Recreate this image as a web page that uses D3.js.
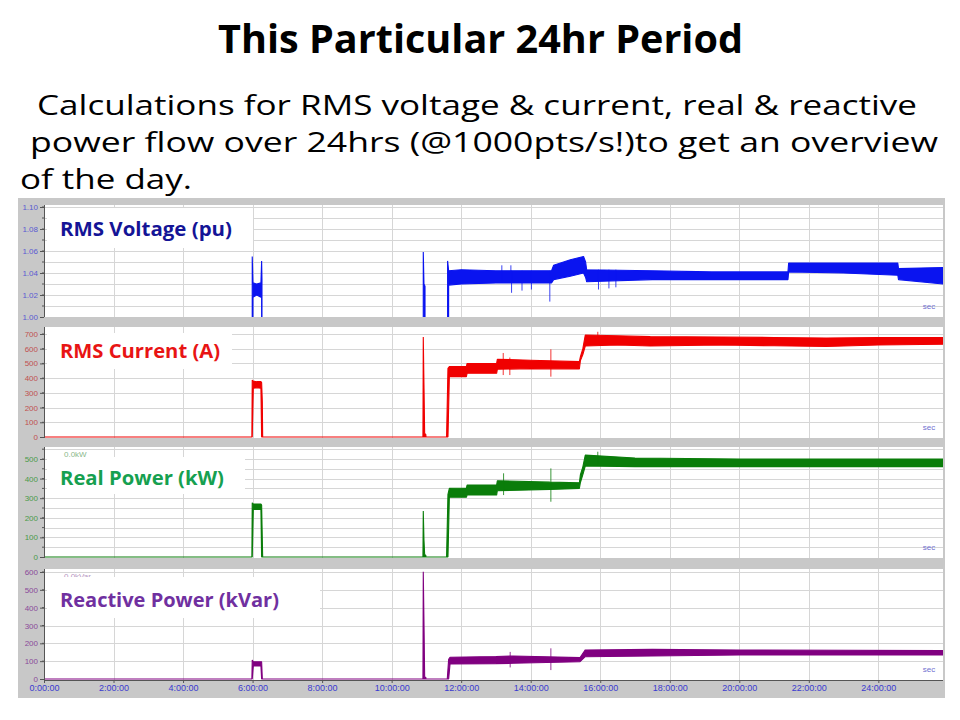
<!DOCTYPE html>
<html><head><meta charset="utf-8">
<script src="https://cdn.jsdelivr.net/npm/d3@7"></script>
<style>body{margin:0;background:#fff}</style>
</head><body>
<svg id="c" width="960" height="720"></svg>
<script>
// ---------- DATA ----------
const xTickHours  = [0,2,4,6,8,10,12,14,16,18,20,22,24];
const xTickLabels = ["0:00:00","2:00:00","4:00:00","6:00:00","8:00:00","10:00:00","12:00:00","14:00:00","16:00:00","18:00:00","20:00:00","22:00:00","24:00:00"];
const recordHours = [0, 25.86];

const voltageTicks = [1.00,1.02,1.04,1.06,1.08,1.10];
const currentTicks = [0,100,200,300,400,500,600,700];
const realTicks    = [0,100,200,300,400,500];
const reactTicks   = [0,100,200,300,400,500,600];

// envelope (min / max) of each 1000 pts/s trace
const voltageHours = [0,5.98,5.99,6.01,6.12,6.24,6.26,6.27,6.28,10.90,10.91,10.93,10.96,10.97,11.60,11.61,11.64,12.00,13.00,14.00,14.60,14.66,15.14,15.52,15.58,15.61,17.50,19.20,21.40,21.42,23.00,24.56,24.58,25.86];
const voltageLow   = [0,0,0,1.018,1.020,1.018,1.020,0,0,0,0,0,0,0,0,0,1.029,1.030,1.031,1.031,1.031,1.034,1.037,1.040,1.036,1.032,1.034,1.034,1.034,1.041,1.040,1.038,1.034,1.030];
const voltageHigh  = [0,0,1.055,1.031,1.030,1.031,1.051,1.034,0,0,1.059,1.030,1.028,0,0,1.051,1.042,1.043,1.042,1.042,1.042,1.047,1.052,1.055,1.050,1.043,1.042,1.041,1.041,1.049,1.049,1.049,1.044,1.045];
const voltageSpikeHours = [13.17,13.43,13.45,13.75,14.02,14.55,15.95,16.25,16.45];
const voltageSpikeLow   = [1.031,1.031,1.022,1.024,1.025,1.014,1.025,1.026,1.027];
const voltageSpikeHigh  = [1.047,1.047,1.042,1.042,1.042,1.042,1.043,1.043,1.043];

const currentHours = [0,5.98,5.99,6.02,6.12,6.24,6.26,6.28,6.29,10.90,10.91,10.93,10.95,10.98,10.99,11.58,11.62,11.66,12.15,12.17,13.02,13.04,14.00,15.40,15.43,15.50,15.57,16.50,17.44,19.50,21.00,22.50,24.00,25.86];
const currentLow   = [0,0,0,331,335,331,0,0,0,0,0,0,0,0,0,0,0,410,410,433,433,460,465,462,519,560,618,625,618,625,620,615,625,630];
const currentHigh  = [0,0,387,380,376,376,370,240,0,0,680,353,20,20,0,0,467,478,478,500,500,528,522,512,546,600,693,688,682,680,676,672,676,676];
const currentSpikeHours = [13.21,13.40,14.58,15.93];
const currentSpikeLow   = [421,421,410,640];
const currentSpikeHigh  = [571,540,596,715];

const realHours = [0,5.98,5.99,6.02,6.24,6.26,6.28,6.29,10.90,10.91,10.93,10.95,10.98,10.99,11.58,11.62,11.66,12.15,12.17,13.02,13.04,14.55,15.40,15.43,15.50,15.57,17.00,20.00,25.86];
const realLow   = [0,0,0,243,243,0,0,0,0,0,0,0,0,0,0,0,305,305,316,316,338,345,350,380,420,464,461,461,461];
const realHigh  = [0,0,277,270,270,265,87,0,0,235,87,10,10,0,0,320,350,352,367,367,389,382,379,420,460,520,505,500,500];
const realSpikeHours = [13.22,14.58,15.93];
const realSpikeLow   = [316,282,470];
const realSpikeHigh  = [427,452,537];

const reactHours = [0,5.98,5.99,6.02,6.24,6.26,6.28,10.90,10.91,10.93,10.95,10.98,10.99,11.60,11.64,11.68,13.00,13.50,15.42,15.57,17.50,20.00,25.86];
const reactLow   = [0,0,0,73,73,0,0,0,0,0,0,0,0,0,0,84,86,88,97,125,129,135,135];
const reactHigh  = [0,0,106,97,97,97,0,0,602,321,10,10,0,0,110,122,126,129,120,163,166,163,159];
const reactSpikeHours = [13.41,14.58];
const reactSpikeLow   = [65,50];
const reactSpikeHigh  = [152,172];

// ---------- LAYOUT ----------
const svg = d3.select("#c");
const X0 = 44, X1 = 943;
const x = d3.scaleLinear().domain(recordHours).range([X0, X1]);

svg.append("rect").attr("width",960).attr("height",720).attr("fill","#fff");

// title and subtitle
svg.append("text").attr("x",218).attr("y",53)
  .attr("font-family","'Open Sans', sans-serif").attr("font-weight","bold").attr("font-size",40)
  .attr("textLength",525).attr("lengthAdjust","spacingAndGlyphs").attr("fill","#000")
  .text("This Particular 24hr Period");
const subLines = [
  {t:"Calculations for RMS voltage & current, real & reactive", x:37, y:115, w:880},
  {t:"power flow over 24hrs (@1000pts/s!)to get an overview", x:30, y:152, w:908},
  {t:"of the day.", x:20, y:189, w:172}
];
subLines.forEach(l=>{
  svg.append("text").attr("x",l.x).attr("y",l.y)
    .attr("font-family","'Open Sans', sans-serif").attr("font-size",27.5)
    .attr("textLength",l.w).attr("lengthAdjust","spacingAndGlyphs").attr("fill","#000")
    .text(l.t);
});

// chart frame
svg.append("rect").attr("x",18).attr("y",198).attr("width",927).attr("height",500).attr("fill","#c8c8c8");

const panels = [
  {top:205,bottom:317,yMin:317,yMax:207,dom:[1.00,1.10],ticks:voltageTicks,fmt:d3.format(".2f"),grid:0.01,
   hours:voltageHours,lo:voltageLow,hi:voltageHigh,sh:voltageSpikeHours,sl:voltageSpikeLow,su:voltageSpikeHigh,
   color:"#0a14f0",tickColor:"#5a5ad2",
   label:"RMS Voltage (pu)",labelColor:"#141496",box:[47,208,206,40],tx:60,ty:236,tw:172},
  {top:327,bottom:438,yMin:437,yMax:334,dom:[0,700],ticks:currentTicks,fmt:d3.format("d"),grid:100,
   hours:currentHours,lo:currentLow,hi:currentHigh,sh:currentSpikeHours,sl:currentSpikeLow,su:currentSpikeHigh,
   color:"#f00000",tickColor:"#c05050",
   label:"RMS Current (A)",labelColor:"#e81414",box:[47,333,185,36],tx:60,ty:358,tw:160},
  {top:447,bottom:558,yMin:557,yMax:459,dom:[0,500],ticks:realTicks,fmt:d3.format("d"),grid:50,
   hours:realHours,lo:realLow,hi:realHigh,sh:realSpikeHours,sl:realSpikeLow,su:realSpikeHigh,
   color:"#0a7d0a",tickColor:"#4a9a4a",
   label:"Real Power (kW)",labelColor:"#16a050",box:[47,457,198,37],tx:60,ty:485,tw:164,faint:"0.0kW",faintColor:"#8ab88a"},
  {top:569,bottom:680,yMin:679,yMax:572,dom:[0,600],ticks:reactTicks,fmt:d3.format("d"),grid:100,
   hours:reactHours,lo:reactLow,hi:reactHigh,sh:reactSpikeHours,sl:reactSpikeLow,su:reactSpikeHigh,
   color:"#800080",tickColor:"#8a4a9a",
   label:"Reactive Power (kVar)",labelColor:"#7030a0",box:[47,577,273,41],tx:60,ty:607,tw:219,faint:"0.0kVar",faintColor:"#b696c2"}
];

panels.forEach((p,i)=>{
  const y = d3.scaleLinear().domain(p.dom).range([p.yMin,p.yMax]);
  const g = svg.append("g");
  g.append("rect").attr("x",X0).attr("y",p.top).attr("width",X1-X0).attr("height",p.bottom-p.top).attr("fill","#fff");
  const clipId = "clip"+i;
  svg.append("clipPath").attr("id",clipId).append("rect")
    .attr("x",X0).attr("y",p.top).attr("width",X1-X0).attr("height",p.bottom-p.top);
  // horizontal grid
  const gvals = d3.range(p.dom[0], p.dom[1]*1.5, p.grid).filter(v=>y(v)>=p.top && y(v)<p.yMin-1);
  g.append("g").selectAll("line").data(gvals).join("line")
    .attr("x1",X0).attr("x2",X1).attr("y1",d=>Math.round(y(d))+0.5).attr("y2",d=>Math.round(y(d))+0.5)
    .attr("stroke","#d6d6d6").attr("stroke-width",1);
  // vertical grid
  g.append("g").selectAll("line").data(xTickHours.slice(1)).join("line")
    .attr("x1",d=>Math.round(x(d))+0.5).attr("x2",d=>Math.round(x(d))+0.5)
    .attr("y1",p.top).attr("y2",p.bottom)
    .attr("stroke","#d6d6d6").attr("stroke-width",1);
  // faint hidden label
  if(p.faint){
    g.append("text").attr("x",64).attr("y",p.top+10).attr("font-family","Arial, sans-serif")
      .attr("font-size",8).attr("fill",p.faintColor).text(p.faint);
  }
  // data band
  const rows = p.hours.map((h,k)=>({h, lo:p.lo[k], hi:p.hi[k]}));
  const area = d3.area().x(d=>x(d.h)).y0(d=>y(d.lo)).y1(d=>y(d.hi));
  const dg = g.append("g").attr("clip-path",`url(#${clipId})`);
  dg.append("path").datum(rows).attr("d",area)
    .attr("fill",p.color).attr("stroke",p.color).attr("stroke-width",1.1).attr("stroke-linejoin","bevel");
  // isolated spikes
  const spikes = p.sh.map((h,k)=>({h, lo:p.sl[k], hi:p.su[k]}));
  dg.append("g").selectAll("line").data(spikes).join("line")
    .attr("x1",d=>x(d.h)).attr("x2",d=>x(d.h)).attr("y1",d=>y(d.lo)).attr("y2",d=>y(d.hi))
    .attr("stroke",p.color).attr("stroke-width",1).attr("stroke-opacity",0.8);
  // y axis
  const ax = d3.axisLeft(y).tickValues(p.ticks).tickFormat(p.fmt).tickSize(4).tickPadding(2);
  const axg = svg.append("g").attr("transform",`translate(${X0},0)`).call(ax);
  axg.select(".domain").attr("stroke","#555").attr("d",`M0.5,${p.top}V${p.bottom}`);
  axg.selectAll(".tick line").attr("stroke","#555");
  axg.selectAll(".tick text").attr("fill",p.tickColor).attr("font-family","Arial, sans-serif").attr("font-size",8);
  // minor ticks
  axg.append("g").selectAll("line").data(gvals).join("line")
    .attr("x1",-2).attr("x2",0).attr("y1",d=>y(d)).attr("y2",d=>y(d)).attr("stroke","#555");
  // label box
  svg.append("rect").attr("x",p.box[0]).attr("y",p.box[1]).attr("width",p.box[2]).attr("height",p.box[3]).attr("fill","#fff");
  svg.append("text").attr("x",p.tx).attr("y",p.ty)
    .attr("font-family","'Open Sans', sans-serif").attr("font-weight","bold").attr("font-size",19)
    .attr("textLength",p.tw).attr("lengthAdjust","spacingAndGlyphs").attr("fill",p.labelColor).text(p.label);
  // sec
  svg.append("text").attr("x",929).attr("y",p.bottom-8).attr("text-anchor","middle")
    .attr("font-family","Arial, sans-serif").attr("font-size",8).attr("fill","#7070d0").text("sec");
});

// x axis
const last = panels[panels.length-1];
const xa = d3.axisBottom(x).tickValues(xTickHours).tickFormat((d,i)=>xTickLabels[i]).tickSize(3).tickPadding(2);
const xg = svg.append("g").attr("transform",`translate(0,${last.bottom})`).call(xa);
xg.select(".domain").attr("stroke","#555").attr("d",`M${X0},0.5H${X1}`);
xg.selectAll(".tick line").attr("stroke","#555");
xg.selectAll(".tick text").attr("fill","#3a3ad0").attr("font-family","Arial, sans-serif").attr("font-size",9);
</script>
</body></html>
